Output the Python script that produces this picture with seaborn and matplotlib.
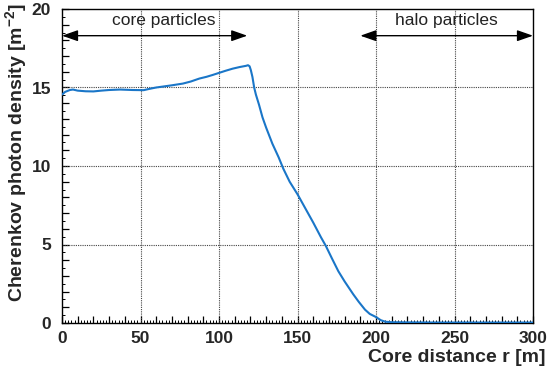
import matplotlib
matplotlib.use("Agg")
import matplotlib.pyplot as plt
from matplotlib.ticker import MultipleLocator, FuncFormatter
import seaborn as sns
import pandas as pd

# Lateral profile of Cherenkov photon density
r_m = [0, 2, 5, 7, 10, 15, 20, 25, 30, 37, 45, 52, 56, 60, 65, 70, 77, 82, 87.5,
       92, 96, 100, 104, 108.7, 113, 117.2, 118.5, 119.5, 120.3, 121.3, 122.4,
       123.5, 125.5, 127.7, 130, 134, 138, 141, 145, 150, 155, 160, 165, 168,
       172, 176, 180, 185.5, 189, 193, 196, 200, 203, 206, 210, 220, 240, 260,
       280, 300]
density = [14.55, 14.72, 14.84, 14.87, 14.8, 14.76, 14.75, 14.8, 14.84, 14.87,
           14.84, 14.83, 14.92, 15.0, 15.07, 15.14, 15.25, 15.38, 15.57,
           15.68, 15.8, 15.93, 16.06, 16.2, 16.3, 16.38, 16.42, 16.35, 16.1,
           15.67, 15.0, 14.55, 13.9, 13.1, 12.45, 11.42, 10.55, 9.82, 9.0, 8.2,
           7.3, 6.4, 5.45, 4.92, 4.1, 3.3, 2.65, 1.83, 1.35, 0.85, 0.58, 0.38,
           0.18, 0.08, 0.05, 0.04, 0.03, 0.03, 0.03, 0.03]

x_ticks = [0, 50, 100, 150, 200, 250, 300]
y_ticks = [0, 5, 10, 15, 20]

df = pd.DataFrame({"r": r_m, "rho": density})

sns.set_style("ticks")
plt.rcParams["font.family"] = ["Liberation Sans", "DejaVu Sans"]
plt.rcParams["mathtext.fontset"] = "custom"
plt.rcParams["mathtext.rm"] = "Liberation Sans:bold"
plt.rcParams["mathtext.bf"] = "Liberation Sans:bold"
plt.rcParams["mathtext.default"] = "bf"

fig = plt.figure(figsize=(5.47, 3.72), dpi=100)
ax = fig.add_axes([62 / 547, (372 - 323) / 372, (533 - 62) / 547, (323 - 9) / 372])

# dotted grid at labelled positions
for xv in x_ticks[1:-1]:
    ax.axvline(xv, color="#444444", lw=0.8, ls=(0, (1, 1)), zorder=1)
for yv in y_ticks[1:-1]:
    ax.axhline(yv, color="#444444", lw=0.8, ls=(0, (1, 1)), zorder=1)

sns.lineplot(data=df, x="r", y="rho", ax=ax, color="#1a76c8", lw=1.5, zorder=3)

ax.set_xlim(0, 300)
ax.set_ylim(0, 20)

ax.xaxis.set_major_locator(MultipleLocator(10))
ax.xaxis.set_minor_locator(MultipleLocator(2))
ax.yaxis.set_major_locator(MultipleLocator(1))
ax.yaxis.set_minor_locator(MultipleLocator(0.5))
ax.xaxis.set_major_formatter(FuncFormatter(lambda v, p: f"{int(round(v))}" if round(v) % 50 == 0 else ""))
ax.yaxis.set_major_formatter(FuncFormatter(lambda v, p: f"{int(round(v))}" if round(v) % 5 == 0 else ""))

ax.tick_params(which="major", direction="in", length=5, width=0.9, color="black",
               labelsize=12.5, top=False, right=False)
ax.tick_params(axis="y", which="major", pad=8)
ax.tick_params(axis="x", which="major", pad=6)
ax.tick_params(which="minor", direction="in", length=2.5, width=0.7, color="black",
               top=False, right=False)
for lab in ax.get_xticklabels() + ax.get_yticklabels():
    lab.set_fontweight("bold")

for s in ax.spines.values():
    s.set_linewidth(1.0)
    s.set_color("black")

ax.set_xlabel("Core distance r [m]", fontsize=14, fontweight="bold", loc="right")
ax.xaxis.set_label_coords(1.0 + 12 / 471, -(349 - 323) / 314)
ax.set_ylabel("Cherenkov photon density [m$^{-2}$]", fontsize=14, fontweight="bold", loc="top")
ax.yaxis.set_label_coords(-(62 - 29) / 471, 1.0 + 6 / 314)

arrow = dict(arrowstyle="<|-|>,head_length=0.8,head_width=0.28", color="black",
             lw=1.0, shrinkA=0, shrinkB=0, mutation_scale=12)
ax.annotate("", xy=(0, 18.3), xytext=(118, 18.3), arrowprops=arrow, zorder=4)
ax.annotate("", xy=(190, 18.3), xytext=(300, 18.3), arrowprops=arrow, zorder=4)
ax.text(65, 19.25, "core particles", ha="center", va="center", fontsize=12.5, color="#222222")
ax.text(245, 19.25, "halo particles", ha="center", va="center", fontsize=12.5, color="#222222")

fig.savefig("out.png", dpi=100)
